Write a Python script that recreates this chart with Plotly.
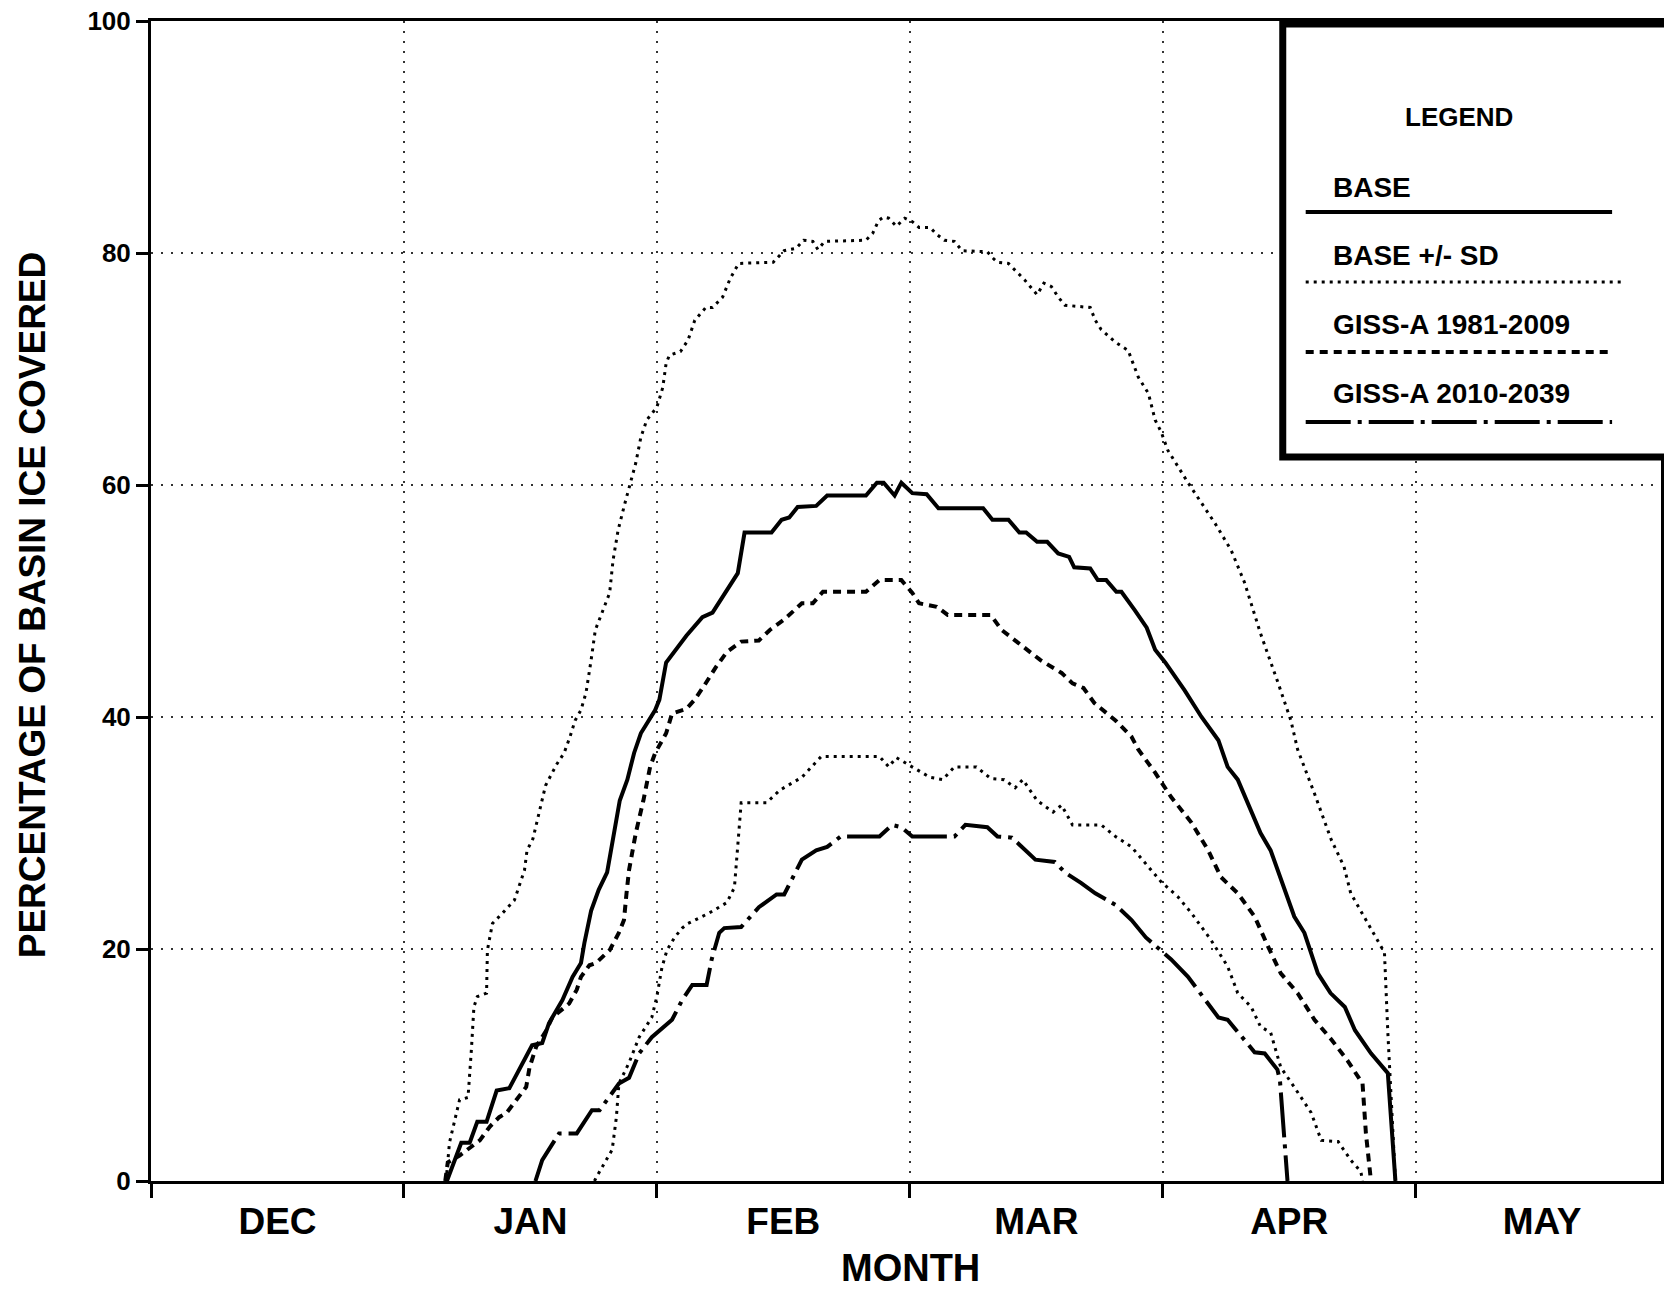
import plotly.graph_objects as go

# ---------------- data (day of season counted from 1 Dec, % of basin ice covered) ----------------
MONTHS = ["DEC", "JAN", "FEB", "MAR", "APR", "MAY"]
MONTH_LEN = 30
Y_TICKS = [0, 20, 40, 60, 80, 100]
LEGEND_LABELS = ["BASE", "BASE +/- SD", "GISS-A 1981-2009", "GISS-A 2010-2039"]

BASE = [(35.1, 0), (36.0, 1.8), (36.8, 3.3), (37.8, 3.3), (38.7, 5.1), (39.8, 5.1), (41.0, 7.8), (42.5, 8.0),
        (45.2, 11.7), (46.4, 11.9), (47.2, 13.6), (48.8, 15.6), (50.0, 17.6), (51.0, 18.8), (51.4, 20.5),
        (52.2, 23.3), (53.1, 25.1), (54.1, 26.6), (55.0, 30.5), (55.6, 32.8), (56.5, 34.6), (57.3, 36.9),
        (58.1, 38.6), (59.8, 40.6), (60.3, 41.5), (61.1, 44.7), (63.5, 47.0), (65.4, 48.6), (66.6, 49.0),
        (69.6, 52.4), (70.4, 55.9), (73.6, 55.9), (74.8, 57.0), (75.7, 57.2), (76.7, 58.1), (78.9, 58.2),
        (80.2, 59.1), (84.8, 59.1), (86.1, 60.2), (86.9, 60.2), (88.2, 59.1), (89.0, 60.2), (90.3, 59.3),
        (92.0, 59.2), (93.4, 58.0), (98.7, 58.0), (99.8, 57.0), (101.7, 57.0), (103.0, 55.9), (103.8, 55.9),
        (105.1, 55.1), (106.3, 55.1), (107.6, 54.1), (108.9, 53.8), (109.5, 52.9), (111.4, 52.8),
        (112.3, 51.8), (113.3, 51.8), (114.5, 50.8), (115.1, 50.8), (116.7, 49.2), (118.1, 47.7),
        (119.1, 45.8), (120.3, 44.7), (122.6, 42.3), (124.6, 40.0), (126.6, 38.0), (127.7, 35.7),
        (128.9, 34.6), (130.1, 32.6), (131.6, 30.0), (132.8, 28.5), (134.5, 25.1), (135.6, 22.8),
        (136.8, 21.4), (138.4, 17.9), (139.9, 16.2), (141.6, 15.0), (142.8, 13.0), (144.7, 11.0),
        (146.7, 9.3), (147.6, 0)]

BASE_PLUS_SD = [(35.0, 0), (35.4, 3.3), (36.6, 7.0), (37.6, 7.2), (38.0, 11.3), (38.3, 15.0), (38.7, 15.9),
                (39.8, 16.2), (39.9, 19.9), (40.5, 22.2), (41.7, 23.1), (43.1, 24.2), (44.3, 26.8), (44.6, 28.5),
                (45.3, 29.5), (46.8, 34.1), (48.1, 35.9), (49.0, 36.9), (49.7, 38.3), (50.3, 39.7), (51.0, 40.6),
                (51.6, 42.1), (52.2, 44.9), (52.7, 47.5), (53.5, 49.0), (54.4, 50.7), (54.8, 53.5), (55.4, 56.1),
                (56.2, 58.4), (56.9, 60.2), (57.5, 61.9), (58.1, 64.1), (58.8, 65.6), (60.0, 66.7), (60.7, 68.4),
                (61.1, 70.5), (61.5, 71.2), (62.8, 71.5), (63.7, 72.5), (64.5, 74.2), (65.8, 75.3), (66.6, 75.3),
                (67.8, 76.2), (68.7, 77.8), (69.7, 79.1), (73.8, 79.2), (75.1, 80.2), (76.5, 80.4), (77.4, 81.1),
                (78.5, 81.0), (79.1, 80.3), (79.9, 81.0), (84.8, 81.1), (85.6, 81.7), (86.3, 82.8), (86.9, 83.1),
                (87.5, 83.0), (88.4, 82.3), (89.4, 83.0), (90.3, 82.7), (91.1, 82.2), (92.4, 82.2), (93.2, 81.6),
                (94.1, 81.1), (95.3, 81.0), (96.2, 80.2), (99.2, 80.1), (99.8, 79.6), (100.4, 79.2), (101.7, 79.1),
                (102.5, 78.5), (103.6, 77.7), (105.1, 76.4), (105.9, 77.4), (106.8, 77.1), (107.6, 76.2),
                (108.4, 75.5), (111.4, 75.3), (112.0, 74.2), (112.7, 73.4), (114.4, 72.3), (115.9, 71.6),
                (117.1, 69.3), (118.3, 67.9), (119.1, 65.6), (119.8, 64.6), (120.6, 63.0), (123.0, 60.2),
                (126.2, 56.7), (128.1, 54.4), (129.7, 51.6), (131.6, 47.2), (133.7, 42.9), (135.2, 39.7),
                (136.0, 37.2), (138.0, 33.4), (140.0, 29.4), (141.5, 27.1), (142.3, 24.8), (143.9, 22.8),
                (146.3, 19.7), (146.7, 12.8), (147.3, 4.1), (147.6, 0)]

BASE_MINUS_SD = [(52.6, 0), (52.8, 0.3), (54.7, 2.7), (55.2, 5.5), (55.5, 8.4), (56.7, 10.2), (57.9, 12.4),
                 (59.4, 14.1), (60.0, 15.9), (60.6, 18.4), (61.2, 19.9), (62.1, 21.0), (63.0, 21.8), (63.7, 22.2),
                 (66.2, 23.1), (68.3, 24.0), (69.2, 25.3), (69.6, 29.1), (70.0, 32.6), (73.0, 32.6), (74.6, 33.7),
                 (77.2, 34.8), (79.5, 36.6), (86.4, 36.6), (87.5, 35.7), (88.4, 36.5), (90.3, 35.7), (92.4, 34.8),
                 (93.9, 34.6), (95.3, 35.7), (97.9, 35.7), (99.6, 34.7), (101.2, 34.6), (102.5, 33.9),
                 (103.4, 34.6), (105.1, 32.8), (107.0, 31.8), (108.0, 32.4), (109.3, 30.7), (112.7, 30.7),
                 (114.4, 29.7), (116.3, 28.8), (119.8, 25.8), (121.8, 24.5), (123.4, 23.1), (125.7, 20.8),
                 (127.7, 18.5), (128.9, 16.2), (130.5, 15.0), (131.6, 13.3), (132.8, 12.8), (134.0, 9.8),
                 (135.6, 8.1), (137.6, 5.9), (138.8, 3.5), (140.8, 3.4), (142.3, 1.8), (143.5, 0.8), (143.7, 0)]

GISS_1981_2009 = [(34.9, 0), (35.2, 1.6), (36.6, 2.2), (39.0, 3.5), (40.2, 4.7), (41.3, 5.5), (42.2, 5.9),
                  (42.9, 6.6), (44.5, 8.1), (44.9, 9.8), (45.7, 11.6), (46.9, 13.0), (47.6, 14.1), (49.6, 15.3),
                  (50.5, 16.5), (51.0, 17.6), (52.0, 18.6), (52.8, 18.8), (54.4, 19.9), (55.5, 21.4), (56.1, 22.5),
                  (56.4, 24.8), (56.7, 26.8), (57.5, 30.0), (58.4, 32.8), (59.2, 35.7), (59.8, 36.9), (61.1, 38.6),
                  (61.8, 40.3), (63.5, 40.7), (64.5, 41.5), (65.7, 42.8), (67.0, 44.3), (68.3, 45.6), (70.0, 46.5),
                  (72.1, 46.6), (73.4, 47.5), (75.1, 48.4), (77.2, 49.8), (78.5, 49.8), (79.7, 50.8), (84.8, 50.8),
                  (86.4, 51.8), (89.0, 51.8), (90.3, 50.7), (91.1, 49.8), (93.2, 49.5), (94.5, 48.8), (99.6, 48.8),
                  (100.9, 47.5), (102.5, 46.6), (103.8, 45.8), (105.5, 44.9), (108.0, 43.8), (109.3, 42.9),
                  (110.6, 42.5), (111.9, 41.2), (114.4, 39.7), (116.3, 38.3), (117.1, 37.2), (119.1, 35.2),
                  (121.0, 33.1), (123.4, 30.9), (125.4, 28.5), (126.9, 26.2), (128.9, 24.8), (130.9, 22.8),
                  (132.5, 20.2), (134.0, 17.9), (136.0, 16.2), (138.0, 13.9), (140.0, 12.2), (141.9, 10.4),
                  (143.7, 8.4), (144.1, 4.1), (144.7, 0)]

GISS_2010_2039 = [(45.6, 0), (45.8, 0.5), (46.4, 1.8), (48.4, 4.1), (50.5, 4.1), (52.3, 6.1), (53.2, 6.1),
                  (55.5, 8.4), (56.7, 8.9), (57.9, 11.0), (59.4, 12.4), (61.8, 13.9), (63.0, 15.6), (64.2, 16.9),
                  (65.9, 16.9), (66.5, 19.1), (67.4, 21.4), (68.0, 21.8), (70.0, 21.9), (72.1, 23.6), (74.2, 24.7),
                  (75.1, 24.7), (77.2, 27.7), (78.9, 28.5), (80.2, 28.8), (81.8, 29.7), (86.4, 29.7), (87.9, 30.7),
                  (89.0, 30.5), (90.3, 29.7), (95.3, 29.7), (96.6, 30.7), (99.2, 30.5), (100.4, 29.7),
                  (102.1, 29.6), (103.3, 28.8), (104.9, 27.7), (107.2, 27.5), (108.4, 26.6), (110.3, 25.7),
                  (112.0, 24.8), (114.4, 23.8), (116.3, 22.5), (118.0, 21.0), (119.5, 20.1), (121.0, 19.1),
                  (123.0, 17.6), (125.0, 15.6), (126.6, 14.1), (127.7, 13.9), (129.7, 12.2), (130.9, 11.1),
                  (132.1, 11.0), (133.6, 9.6), (133.9, 8.7), (134.3, 4.7), (134.8, 0)]

# ---------------- layout constants ----------------
W, H = 1664, 1289
ML, MR, MT, MB = 151, 0, 21, 108
XMAX = 179.1
FONT = "Liberation Sans, Arial, Helvetica, sans-serif"


def px(x):
    return (x - ML) / (W - ML - MR)


def py(y):
    return (H - MB - y) / (H - MT - MB)


STY_BASE = dict(color="black", width=4, dash="solid")
STY_SD = dict(color="black", width=3, dash="3px,5px")
STY_G1 = dict(color="black", width=4, dash="8px,6px")
STY_G2 = dict(color="black", width=4, dash="45px,7px,4px,7px")

fig = go.Figure()


def add(series, style, name):
    fig.add_trace(go.Scatter(x=[d for d, _ in series], y=[v for _, v in series], mode="lines",
                             line=style, name=name, showlegend=False, hoverinfo="skip"))


add(BASE, STY_BASE, LEGEND_LABELS[0])
add(BASE_PLUS_SD, STY_SD, LEGEND_LABELS[1])
add(BASE_MINUS_SD, STY_SD, LEGEND_LABELS[1])
add(GISS_1981_2009, STY_G1, LEGEND_LABELS[2])
add(GISS_2010_2039, STY_G2, LEGEND_LABELS[3])

grid = dict(gridcolor="#333333", gridwidth=1.5, griddash="2px,8px")

fig.update_layout(
    width=W, height=H,
    margin=dict(l=ML, r=MR, t=MT, b=MB, pad=0),
    paper_bgcolor="white", plot_bgcolor="white",
    font=dict(family=FONT, color="black"),
    xaxis=dict(
        range=[0, XMAX], tickmode="array",
        tickvals=[MONTH_LEN * i + MONTH_LEN / 2 for i in range(len(MONTHS))], ticktext=MONTHS,
        ticks="", showgrid=False, zeroline=False,
        showline=True, linewidth=3, linecolor="black", mirror=True,
        tickfont=dict(family=FONT, size=37, color="black", weight="bold"),
        ticklabelstandoff=6,
        minor=dict(tickmode="array", tickvals=[MONTH_LEN * i for i in range(len(MONTHS))],
                   ticks="outside", ticklen=14, tickwidth=3, tickcolor="black", showgrid=True, **grid),
    ),
    yaxis=dict(
        range=[0, 100], tickmode="array", tickvals=Y_TICKS, ticktext=[str(v) for v in Y_TICKS],
        ticks="outside", ticklen=12, tickwidth=3, tickcolor="black",
        showgrid=True, zeroline=False, **grid,
        showline=True, linewidth=3, linecolor="black", mirror=True,
        tickfont=dict(family=FONT, size=26, color="black", weight="bold"),
    ),
)

bold = dict(family=FONT, color="black", weight="bold")
ann = [
    dict(x=px(32), y=py(605), text="PERCENTAGE OF BASIN ICE COVERED", textangle=-90,
         font=dict(size=37, **bold)),
    dict(x=px(912), y=py(1268), text="MONTH", font=dict(size=38, **bold)),
    dict(x=px(1462), y=py(117), text="LEGEND", font=dict(size=26, **bold)),
]
for lbl, yy in zip(LEGEND_LABELS, [187, 255, 324, 394]):
    ann.append(dict(x=px(1333), y=py(yy), text=lbl, xanchor="left", font=dict(size=28, **bold)))
for a in ann:
    a.update(xref="paper", yref="paper", showarrow=False)
    a.setdefault("xanchor", "center")
    a.setdefault("yanchor", "middle")
fig.update_layout(annotations=ann)

shapes = [dict(type="rect", xref="paper", yref="paper", x0=px(1285), x1=px(1720), y0=py(24), y1=py(457),
               line=dict(color="black", width=7), fillcolor="white", layer="above")]
for sty, yy, xe in [(STY_BASE, 212, 1615), (STY_SD, 282, 1628), (STY_G1, 352, 1615), (STY_G2, 422, 1615)]:
    shapes.append(dict(type="line", xref="paper", yref="paper", x0=px(1308), x1=px(xe), y0=py(yy), y1=py(yy),
                       line=sty, layer="above"))
fig.update_layout(shapes=shapes)

fig.write_html("out.html", config={"displayModeBar": False})
